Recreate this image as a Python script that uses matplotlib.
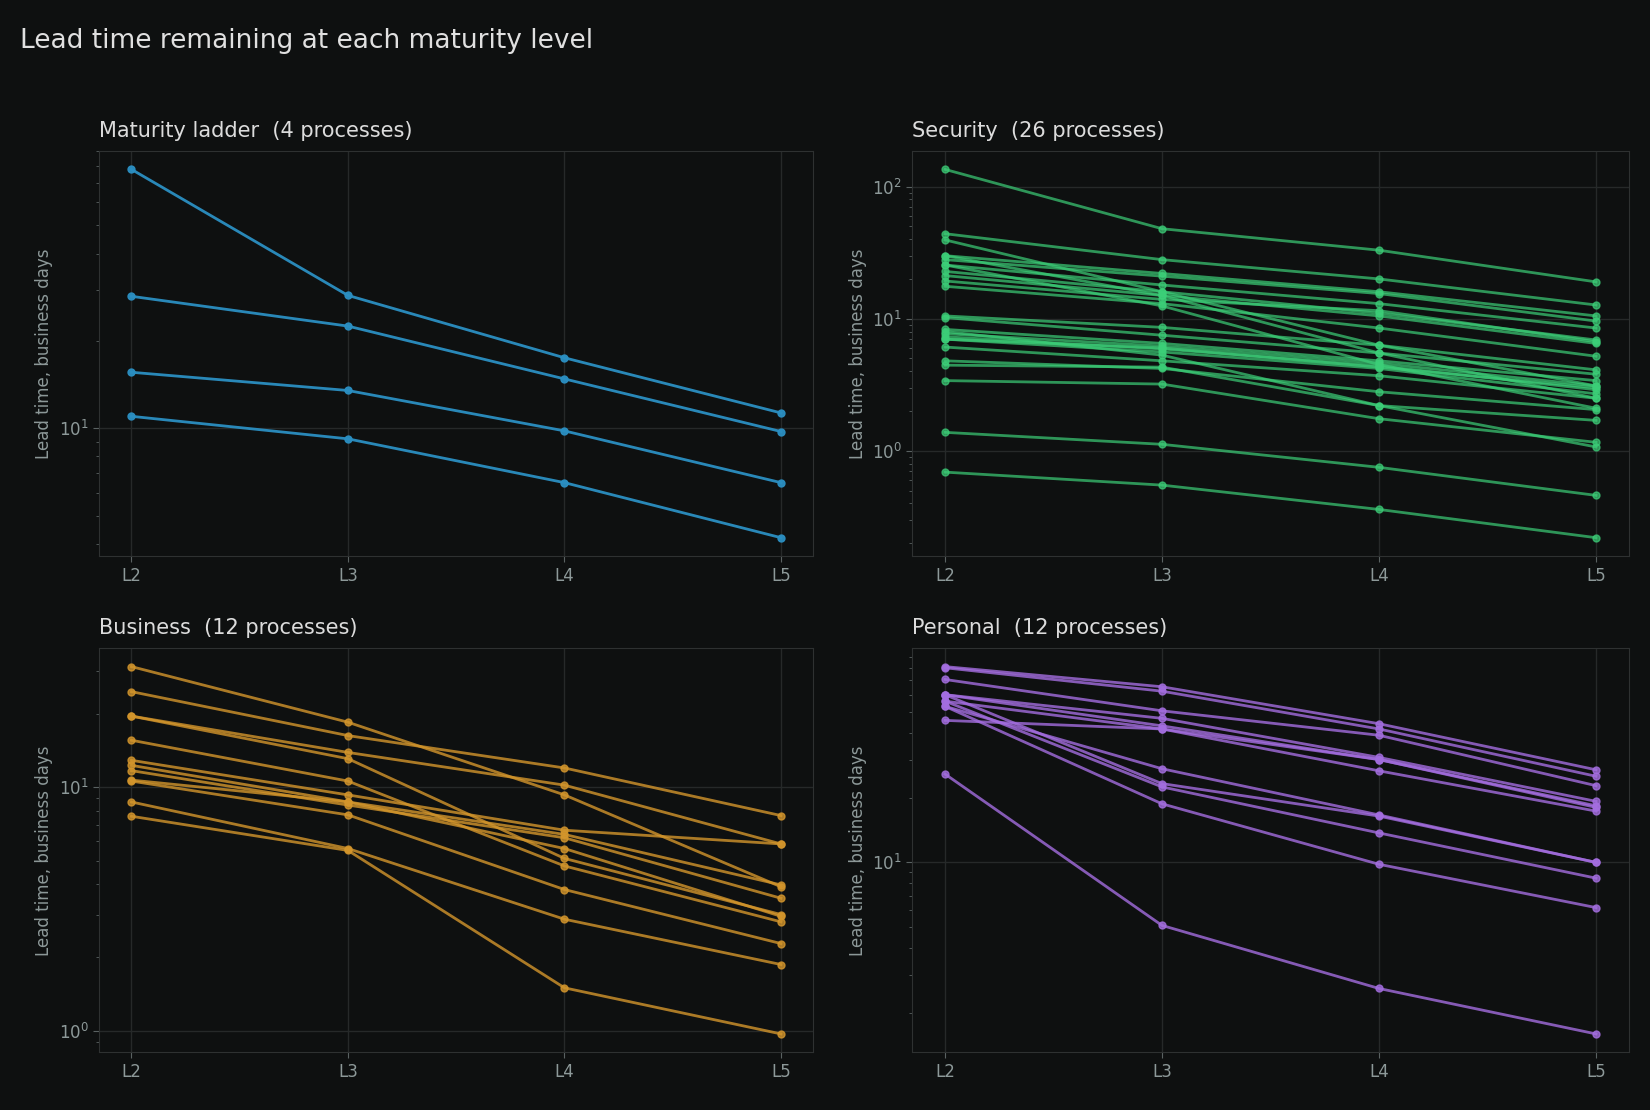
import matplotlib
matplotlib.use("Agg")
import matplotlib.pyplot as plt
from matplotlib.ticker import NullFormatter, LogLocator

levels = ["L2", "L3", "L4", "L5"]

ladder = [
    [78, 28.7, 17.5, 11.3],
    [28.5, 22.5, 14.8, 9.75],
    [15.6, 13.5, 9.8, 6.5],
    [11.0, 9.2, 6.5, 4.2],
]

security = [
    [135, 48, 33, 19],
    [44, 28, 20, 12.7],
    [39.5, 16, 6.3, 3.1],
    [30, 22, 16, 10.5],
    [28, 21, 15.5, 9.6],
    [25.5, 18, 13, 8.5],
    [22.8, 16, 11, 6.9],
    [21.2, 15, 10.5, 6.5],
    [19.3, 14, 11.5, 6.7],
    [17.6, 13, 8.5, 5.2],
    [30, 15, 5.5, 2.5],
    [25.5, 12.5, 4.5, 2.1],
    [10.5, 8.6, 6.3, 4.1],
    [10.2, 7.5, 5.5, 3.8],
    [8.3, 6.5, 4.8, 3.4],
    [7.7, 6.2, 4.6, 3.1],
    [7.3, 5.9, 4.4, 2.9],
    [7.0, 5.6, 4.2, 2.7],
    [7.0, 6.0, 4.3, 3.0],
    [6.1, 4.8, 3.7, 2.5],
    [4.8, 4.2, 2.8, 2.05],
    [4.45, 4.3, 2.2, 1.7],
    [3.4, 3.2, 1.75, 1.16],
    [8.0, 5.3, 2.2, 1.07],
    [1.38, 1.12, 0.75, 0.46],
    [0.69, 0.55, 0.36, 0.22],
]

business = [
    [31.3, 18.5, 9.3, 3.9],
    [24.7, 16.3, 12.0, 7.65],
    [19.6, 13.9, 10.2, 5.85],
    [19.6, 13.1, 5.1, 3.0],
    [15.6, 10.6, 4.75, 2.8],
    [12.9, 9.3, 6.66, 5.85],
    [12.3, 8.7, 6.4, 3.97],
    [11.7, 8.45, 6.2, 3.5],
    [10.7, 8.7, 5.6, 2.95],
    [10.6, 7.7, 3.8, 2.28],
    [8.7, 5.6, 2.87, 1.87],
    [7.6, 5.5, 1.5, 0.97],
]

personal = [
    [81, 65.3, 44, 26.9],
    [80, 62.3, 41.6, 25.1],
    [70.6, 50.5, 38.9, 22.7],
    [60, 46.6, 30.7, 19.2],
    [60, 43, 30, 18.3],
    [56, 41.6, 26.6, 17.3],
    [53, 27.2, 16.6, 10],
    [45.6, 41.6, 30, 18],
    [60, 23.2, 16.4, 10],
    [56, 22.4, 13.7, 8.45],
    [53, 18.7, 9.8, 6.17],
    [25.7, 5.1, 2.6, 1.6],
]

panels = [
    ("Maturity ladder  (4 processes)", ladder, "#2b8fc2", 0.95),
    ("Security  (26 processes)", security, "#3ccf78", 0.7),
    ("Business  (12 processes)", business, "#d4962c", 0.8),
    ("Personal  (12 processes)", personal, "#a46ee0", 0.8),
]

BG = "#0e1010"
fig = plt.figure(figsize=(16.5, 11.1), dpi=100, facecolor=BG)
rects = [
    [0.060, 0.499, 0.433, 0.365],
    [0.553, 0.499, 0.434, 0.365],
    [0.060, 0.052, 0.433, 0.364],
    [0.553, 0.052, 0.434, 0.364],
]
x = list(range(len(levels)))
for (title, data, color, alpha), r in zip(panels, rects):
    ax = fig.add_axes(r)
    ax.set_facecolor(BG)
    for row in data:
        ax.plot(x, row, color=color, alpha=alpha, lw=2.0, marker="o", ms=5)
    ax.set_yscale("log")
    ax.yaxis.set_minor_formatter(NullFormatter())
    ax.set_xticks(x)
    ax.set_xticklabels(levels)
    ax.grid(True, which="major", color="#262929", lw=1)
    ax.set_axisbelow(True)
    for s in ax.spines.values():
        s.set_color("#2e3131")
    ax.tick_params(colors="#8d9999", labelsize=12, which="both")
    ax.tick_params(axis="both", which="major", length=4, color="#5a6262")
    ax.tick_params(axis="y", which="minor", length=2, color="#5a6262")
    ax.set_ylabel("Lead time, business days", color="#8d9999", fontsize=12)
    ax.set_title(title, loc="left", color="#dcdcdc", fontsize=15, pad=10)

fig.text(0.012, 0.975, "Lead time remaining at each maturity level",
         color="#e0e0e0", fontsize=19, va="top", ha="left")
fig.savefig("out.png", dpi=100, facecolor=BG)
